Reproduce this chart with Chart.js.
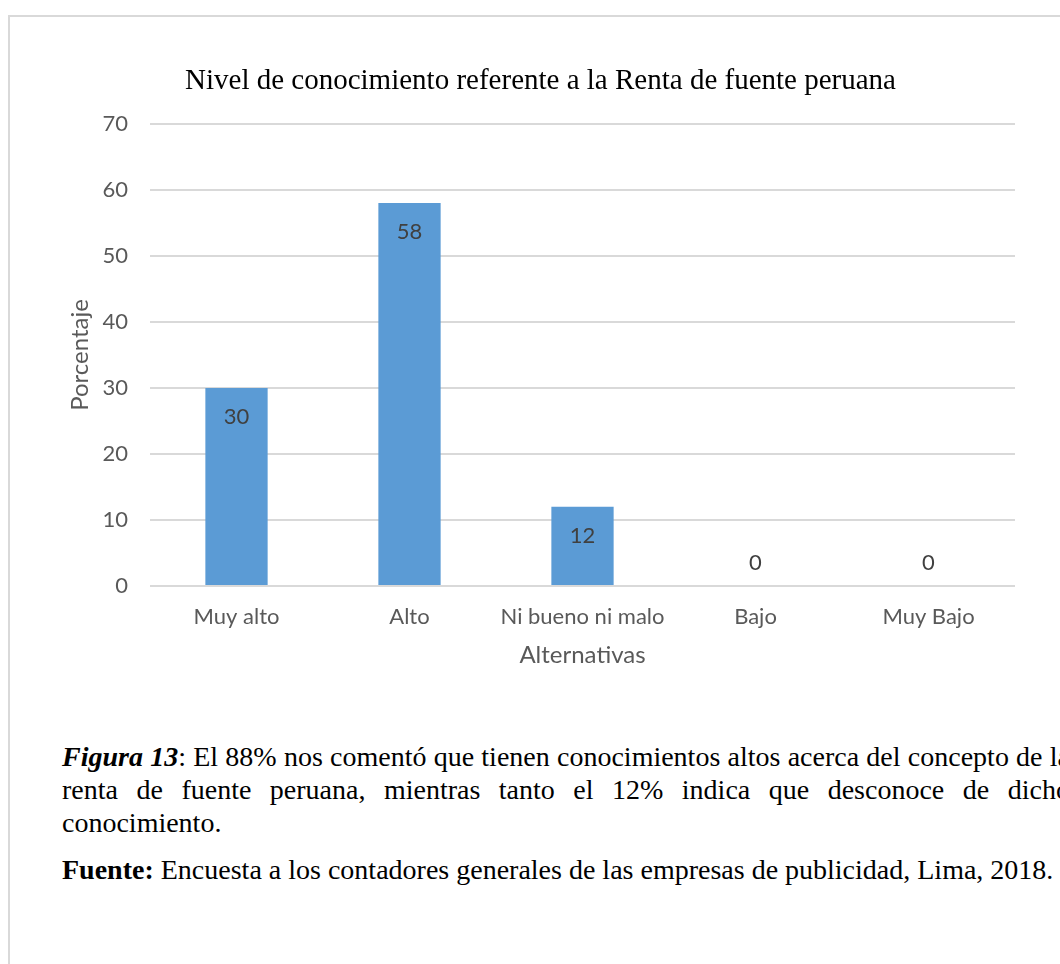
<!DOCTYPE html>
<html lang="es">
<head>
<meta charset="utf-8">
<title>Nivel de conocimiento referente a la Renta de fuente peruana</title>
<script src="https://cdn.jsdelivr.net/npm/chart.js@4.4.1/dist/chart.umd.min.js"></script>
<style>
    html, body {
        margin: 0;
        padding: 0;
        background: #ffffff;
        overflow: hidden;
        width: 1060px;
        height: 964px;
    }
    .marco {
        position: absolute;
        left: 8px;
        top: 15px;
        width: 1100px;
        height: 1000px;
        border: 2px solid #d9d9d9;
        box-sizing: border-box;
    }
    .grafico {
        position: absolute;
        left: 0;
        top: 0;
        width: 1060px;
        height: 700px;
    }
    .nota {
        position: absolute;
        left: 62px;
        top: 740px;
        width: 1008px;
        font-family: 'Liberation Serif', 'Times New Roman', serif;
        font-size: 28px;
        line-height: 33px;
        color: #000;
    }
    .nota p {
        margin: 0;
        white-space: nowrap;
    }
    /* renglones justificados: las palabras se reparten a lo ancho */
    .nota .just {
        display: flex;
        justify-content: space-between;
    }
    .nota .fuente {
        margin-top: 14px;
    }
</style>
</head>
<body>
<div class="marco"></div>
<div class="grafico"><canvas id="nivelChart" width="1060" height="700"></canvas></div>
<div class="nota">
    <p class="just" id="renglon1"></p>
    <p class="just" id="renglon2"></p>
    <p>conocimiento.</p>
    <p class="fuente"><b>Fuente:</b> Encuesta a los contadores generales de las empresas de publicidad, Lima, 2018.</p>
</div>

<script>
// Datos de la encuesta
const alternativas = ['Muy alto', 'Alto', 'Ni bueno ni malo', 'Bajo', 'Muy Bajo'];
const porcentajes = [30, 58, 12, 0, 0];
const ticksY = [0, 10, 20, 30, 40, 50, 60, 70];

const azul = '#5b9bd5';
const grisTexto = '#595959';
const grisEtiqueta = '#404040';
const grisLinea = '#d9d9d9';
const fuenteSans = "Lato, 'Open Sans', sans-serif";

// Nota al pie, renglón por renglón
function llenarRenglon(id, html) {
    document.getElementById(id).innerHTML = html
        .split(' ')
        .map(p => '<span>' + p + '</span>')
        .join('');
}
llenarRenglon('renglon1', '<b><i>Figura</i></b> <b><i>13</i></b>: El 88% nos comentó que tienen conocimientos altos acerca del concepto de la');
llenarRenglon('renglon2', 'renta de fuente peruana, mientras tanto el 12% indica que desconoce de dicho');

// Etiquetas de valor dentro del extremo de cada barra
const etiquetasValor = {
    id: 'etiquetasValor',
    afterDatasetsDraw(chart) {
        const ctx = chart.ctx;
        const meta = chart.getDatasetMeta(0);
        ctx.save();
        ctx.font = '22px ' + fuenteSans;
        ctx.fillStyle = grisEtiqueta;
        ctx.textAlign = 'center';
        ctx.textBaseline = 'middle';
        meta.data.forEach((bar, i) => {
            const v = chart.data.datasets[0].data[i];
            const y = v > 0 ? bar.y + 29 : bar.y - 23;
            ctx.fillText(String(v), bar.x, y);
        });
        ctx.restore();
    }
};

const ctx = document.getElementById('nivelChart').getContext('2d');
new Chart(ctx, {
    type: 'bar',
    data: {
        labels: alternativas,
        datasets: [{
            data: porcentajes,
            backgroundColor: azul,
            borderWidth: 0,
            barPercentage: 0.36,
            categoryPercentage: 1
        }]
    },
    options: {
        responsive: false,
        animation: false,
        layout: {
            padding: { left: 66, right: 45, top: 0, bottom: 26 }
        },
        plugins: {
            legend: { display: false },
            tooltip: { enabled: false },
            title: {
                display: true,
                text: 'Nivel de conocimiento referente a la Renta de fuente peruana',
                color: '#000000',
                font: { family: "'Liberation Serif', 'Times New Roman', serif", size: 29, weight: 'normal' },
                padding: { top: 64, bottom: 25 }
            }
        },
        scales: {
            x: {
                grid: { display: false, drawTicks: false },
                border: { display: false },
                ticks: {
                    color: grisTexto,
                    font: { family: fuenteSans, size: 22 },
                    padding: 18,
                    maxRotation: 0
                },
                title: {
                    display: true,
                    text: 'Alternativas',
                    color: grisTexto,
                    font: { family: fuenteSans, size: 24 },
                    padding: { top: 4, bottom: 4 }
                },
                afterFit(scale) { scale.height = 674 - 586; }
            },
            y: {
                min: 0,
                max: 70,
                afterBuildTicks(scale) {
                    scale.ticks = ticksY.map(v => ({ value: v }));
                },
                grid: {
                    color: grisLinea,
                    lineWidth: 2,
                    drawTicks: false
                },
                border: { display: false },
                ticks: {
                    color: grisTexto,
                    font: { family: fuenteSans, size: 22 },
                    padding: 22
                },
                title: {
                    display: true,
                    text: 'Porcentaje',
                    color: grisTexto,
                    font: { family: fuenteSans, size: 24 },
                    padding: { top: 0, bottom: 0 }
                },
                afterFit(scale) { scale.width = 150 - 66; }
            }
        }
    },
    plugins: [etiquetasValor]
});
</script>
</body>
</html>
